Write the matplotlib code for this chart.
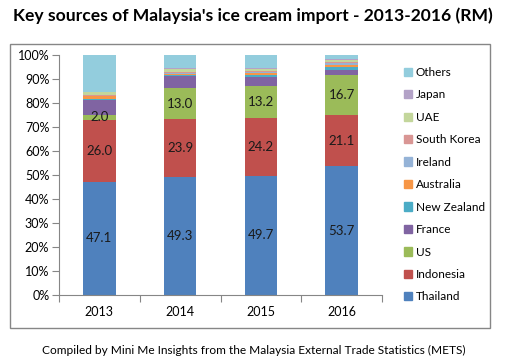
import numpy as np
import matplotlib
matplotlib.use('Agg')
import matplotlib.pyplot as plt
from matplotlib.patches import Rectangle, Patch

plt.rcParams['font.family'] = ['Lato', 'DejaVu Sans']

years = ['2013', '2014', '2015', '2016']
countries = ['Thailand', 'Indonesia', 'US', 'France', 'New Zealand', 'Australia',
             'Ireland', 'South Korea', 'UAE', 'Japan', 'Others']
thailand = [47.1, 49.3, 49.7, 53.7]
indonesia = [26.0, 23.9, 24.2, 21.1]
us = [2.0, 13.0, 13.2, 16.7]
france = [6.1, 5.0, 3.8, 2.4]
new_zealand = [0.6, 0.4, 0.7, 1.2]
australia = [1.0, 0.4, 0.8, 0.9]
ireland = [0.3, 0.3, 0.4, 0.6]
south_korea = [0.4, 0.8, 0.6, 0.6]
uae = [0.9, 0.9, 0.6, 0.7]
japan = [0.3, 0.4, 0.5, 0.3]
others = [15.3, 5.6, 5.5, 1.8]
series = [thailand, indonesia, us, france, new_zealand, australia,
          ireland, south_korea, uae, japan, others]
colors = ['#4F81BD', '#C0504D', '#9BBB59', '#8064A2', '#4BACC6', '#F79646',
          '#95B3D7', '#D99694', '#C3D69B', '#B3A2C7', '#93CDDD']
labelled = ['Thailand', 'Indonesia', 'US']

fig = plt.figure(figsize=(5.05, 3.61), dpi=100)
ax = fig.add_axes([59/505, 1-295/361, (382-59)/505, (295-55)/361])

x = np.arange(len(years))
bottom = np.zeros(len(years))
for name, vals, c in zip(countries, series, colors):
    vals = np.array(vals)
    ax.bar(x, vals, 0.4, bottom=bottom, color=c, linewidth=0)
    if name in labelled:
        for xi, b, v in zip(x, bottom, vals):
            ax.text(xi, b + v/2, f'{v:.1f}', ha='center', va='center',
                    fontsize=9.5, color='#1a1a1a')
    bottom += vals

ax.set_xlim(-0.5, 3.5)
ax.set_ylim(0, 100)
ax.set_yticks(np.arange(0, 101, 10))
ax.set_yticklabels([f'{v}%' for v in range(0, 101, 10)], fontsize=9)
ax.set_xticks(np.arange(-0.5, 4, 1))
ax.set_xticklabels([])
ax.set_xticks(x, minor=True)
ax.set_xticklabels(years, minor=True, fontsize=9)
ax.tick_params(axis='x', which='minor', length=0, pad=8)
ax.tick_params(axis='x', which='major', length=5, color='#868686')
ax.tick_params(axis='y', length=5, color='#868686', pad=2)
for s in ['top', 'right']:
    ax.spines[s].set_visible(False)
for s in ['left', 'bottom']:
    ax.spines[s].set_color('#868686')

handles = [Patch(color=c, label=n) for n, c in zip(countries, colors)][::-1]
fig.legend(handles=handles, loc='upper left', bbox_to_anchor=(398/505, 1-61/361),
           frameon=False, fontsize=8.5, handlelength=0.7, handleheight=0.7,
           handletextpad=0.3, labelspacing=0.97, borderpad=0)

fig.patches.append(Rectangle((10/505, 1-328/361), 480/505, 284/361,
                             transform=fig.transFigure, fill=False,
                             edgecolor='#868686', linewidth=1))

fig.text(0.5, 1-16/361, "Key sources of Malaysia's ice cream import - 2013-2016 (RM)",
         ha='center', va='center', fontsize=12.6, fontweight='bold')
fig.text(254/505, 1-350/361,
         'Compiled by Mini Me Insights from the Malaysia External Trade Statistics (METS)',
         ha='center', va='center', fontsize=8.6)

fig.savefig('out.png', dpi=100)
